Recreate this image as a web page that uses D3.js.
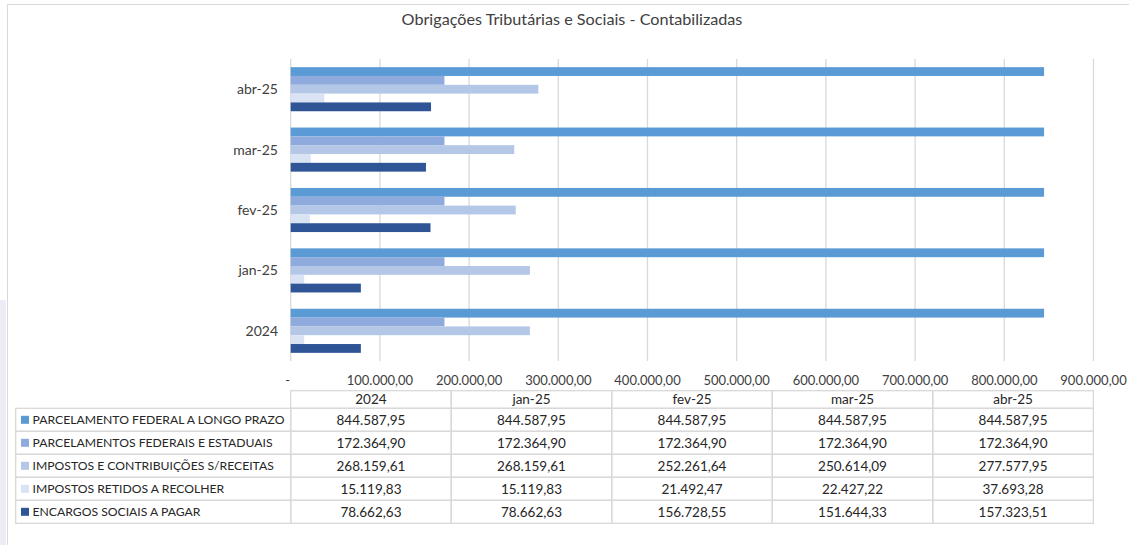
<!DOCTYPE html>
<html>
<head>
<meta charset="utf-8">
<script src="https://cdn.jsdelivr.net/npm/d3@7"></script>
<style>
  body { margin: 0; background: #fff; }
  svg { display: block; font-family: "Lato", "Liberation Sans", sans-serif; }
</style>
</head>
<body>
<div id="chart"></div>
<script>
// data
const categories = ["2024", "jan-25", "fev-25", "mar-25", "abr-25"];
const seriesNames = [
    "PARCELAMENTO FEDERAL A LONGO PRAZO",
    "PARCELAMENTOS FEDERAIS E ESTADUAIS",
    "IMPOSTOS E CONTRIBUIÇÕES S/RECEITAS",
    "IMPOSTOS RETIDOS A RECOLHER",
    "ENCARGOS SOCIAIS A PAGAR"
];
const parcelamentoLongoPrazo = [844587.95, 844587.95, 844587.95, 844587.95, 844587.95];
const parcelamentosFedEst = [172364.90, 172364.90, 172364.90, 172364.90, 172364.90];
const impostosContribuicoes = [268159.61, 268159.61, 252261.64, 250614.09, 277577.95];
const impostosRetidos = [15119.83, 15119.83, 21492.47, 22427.22, 37693.28];
const encargosSociais = [78662.63, 78662.63, 156728.55, 151644.33, 157323.51];
const seriesValues = [parcelamentoLongoPrazo, parcelamentosFedEst, impostosContribuicoes, impostosRetidos, encargosSociais];
const colors = ["#5B9BD5", "#8FAADC", "#B4C7E7", "#DAE3F3", "#2F5597"];
const xMax = 900000;

const width = 1129, height = 545;
const plot = { left: 290.7, right: 1093.5, top: 59, bottom: 361 };

const br = d3.formatLocale({ decimal: ",", thousands: ".", grouping: [3], currency: ["R$", ""] });
const fmt = br.format(",.2f");
const tickFmt = d => d === 0 ? "-" : fmt(d);

const svg = d3.select("#chart").append("svg")
    .attr("width", width)
    .attr("height", height);

// frame
svg.append("rect").attr("x", 0).attr("y", 300).attr("width", 6).attr("height", 245).attr("fill", "#ECECF4");
svg.append("line").attr("x1", 7.5).attr("x2", width).attr("y1", 4.5).attr("y2", 4.5).attr("stroke", "#D9D9D9");
svg.append("line").attr("x1", 7.5).attr("x2", 7.5).attr("y1", 4.5).attr("y2", height).attr("stroke", "#D9D9D9");

svg.append("text")
    .attr("x", 572)
    .attr("y", 25)
    .attr("text-anchor", "middle")
    .attr("fill", "#404040")
    .style("font-size", "16.2px")
    .text("Obrigações Tributárias e Sociais - Contabilizadas");

const x = d3.scaleLinear().domain([0, xMax]).range([plot.left, plot.right]);

const y = d3.scaleBand()
    .domain(categories.slice().reverse())
    .range([plot.top, plot.bottom])
    .paddingInner(0.27)
    .paddingOuter(0.135);

const ySub = d3.scaleBand()
    .domain(d3.range(seriesNames.length))
    .range([0, y.bandwidth()]);

// gridlines
svg.append("g")
    .selectAll("line")
    .data(x.ticks(9))
    .join("line")
    .attr("x1", d => x(d))
    .attr("x2", d => x(d))
    .attr("y1", plot.top)
    .attr("y2", plot.bottom)
    .attr("stroke", "#D9D9D9")
    .attr("stroke-width", 1.3);

// bars
const groups = svg.append("g")
    .selectAll("g")
    .data(categories)
    .join("g")
    .attr("transform", c => `translate(0,${y(c)})`);

groups.selectAll("rect")
    .data((c, ci) => seriesValues.map((vals, si) => ({ si, value: vals[ci] })))
    .join("rect")
    .attr("x", x(0))
    .attr("y", d => ySub(d.si))
    .attr("width", d => x(d.value) - x(0))
    .attr("height", ySub.bandwidth())
    .attr("fill", d => colors[d.si]);

// category labels
svg.append("g")
    .selectAll("text")
    .data(categories)
    .join("text")
    .attr("x", 278)
    .attr("y", c => y(c) + y.bandwidth() / 2)
    .attr("dy", "0.35em")
    .attr("text-anchor", "end")
    .attr("fill", "#404040")
    .style("font-size", "14px")
    .text(c => c);

// x tick labels
svg.append("g")
    .selectAll("text")
    .data(x.ticks(9))
    .join("text")
    .attr("x", d => d === 0 ? x(d) - 3 : x(d))
    .attr("y", 380)
    .attr("dy", "0.35em")
    .attr("text-anchor", "middle")
    .attr("fill", "#404040")
    .style("font-size", "13px")
    .text(tickFmt);

// data table
const col = d3.scaleBand().domain(categories).range([plot.left, 1093.3]);
const tableLeft = 15.7;
const headerTop = 390.7, headerBottom = 408.3, rowH = 23;
const table = svg.append("g");
const border = "#D9D9D9";

// header cells
table.selectAll(".hdr")
    .data(categories)
    .join("rect")
    .attr("class", "hdr")
    .attr("x", c => col(c))
    .attr("y", headerTop)
    .attr("width", col.bandwidth())
    .attr("height", headerBottom - headerTop)
    .attr("fill", "none")
    .attr("stroke", border)
    .attr("stroke-width", 1.3);

table.selectAll(".hdrText")
    .data(categories)
    .join("text")
    .attr("class", "hdrText")
    .attr("x", c => col(c) + col.bandwidth() / 2)
    .attr("y", (headerTop + headerBottom) / 2)
    .attr("dy", "0.35em")
    .attr("text-anchor", "middle")
    .attr("fill", "#262626")
    .style("font-size", "13.5px")
    .text(c => c);

const rows = table.selectAll(".row")
    .data(seriesNames)
    .join("g")
    .attr("class", "row")
    .attr("transform", (s, i) => `translate(0,${headerBottom + i * rowH})`);

rows.append("rect")
    .attr("x", tableLeft)
    .attr("y", 0)
    .attr("width", plot.left - tableLeft)
    .attr("height", rowH)
    .attr("fill", "none")
    .attr("stroke", border)
    .attr("stroke-width", 1.3);

rows.append("rect")
    .attr("x", 21)
    .attr("y", rowH / 2 - 4)
    .attr("width", 8)
    .attr("height", 8)
    .attr("fill", (s, i) => colors[i]);

rows.append("text")
    .attr("x", 32.5)
    .attr("y", rowH / 2)
    .attr("dy", "0.35em")
    .attr("fill", "#262626")
    .style("font-size", "12.2px")
    .text(s => s);

rows.selectAll(".cell")
    .data((s, si) => categories.map((c, ci) => ({ c, value: seriesValues[si][ci] })))
    .join("rect")
    .attr("class", "cell")
    .attr("x", d => col(d.c))
    .attr("y", 0)
    .attr("width", col.bandwidth())
    .attr("height", rowH)
    .attr("fill", "none")
    .attr("stroke", border)
    .attr("stroke-width", 1.3);

rows.selectAll(".val")
    .data((s, si) => categories.map((c, ci) => ({ c, value: seriesValues[si][ci] })))
    .join("text")
    .attr("class", "val")
    .attr("x", d => col(d.c) + col.bandwidth() / 2)
    .attr("y", rowH / 2)
    .attr("dy", "0.35em")
    .attr("text-anchor", "middle")
    .attr("fill", "#262626")
    .style("font-size", "13.5px")
    .text(d => fmt(d.value));
</script>
</body>
</html>
